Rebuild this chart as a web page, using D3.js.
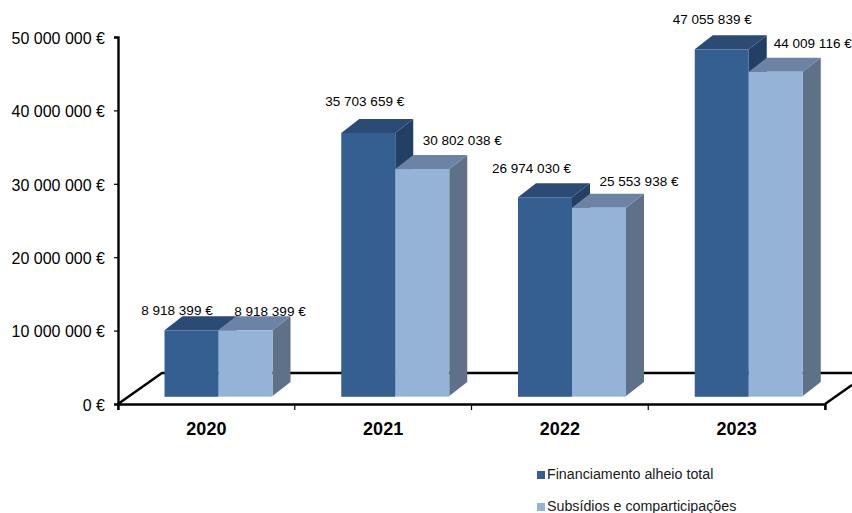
<!DOCTYPE html>
<html><head><meta charset="utf-8">
<script src="https://cdn.jsdelivr.net/npm/d3@7"></script>
<style>html,body{margin:0;padding:0;background:#fff}svg{display:block;font-family:"Liberation Sans",Arial,sans-serif}</style>
</head><body><svg id="c" width="852" height="513"></svg>
<script>
const years = ["2020","2021","2022","2023"];
const seriesNames = ["Financiamento alheio total","Subsídios e comparticipações"];
const financiamento = [8918399,35703659,26974030,47055839];
const subsidios = [8918399,30802038,25553938,44009116];
const yTicks = [0,10000000,20000000,30000000,40000000,50000000];

const palettes = [
  {front:"#365F91",top:"#2B4A74",side:"#233F64",edge:"#5B7FAB"},
  {front:"#95B3D7",top:"#6C83A5",side:"#5F7189",edge:"#B9CDE4"}
];
const labelOffsets = [
  [[-14.5,-15],[-3.5,-27],[-13.5,-24],[-9.5,-25]],
  [[24.5,-14.5],[40,-24],[40,-22],[37,-23.5]]
];
const svg = d3.select("#c");
const y = d3.scaleLinear().domain([0,50000000]).range([404,37]);
const yBar = d3.scaleLinear().domain([0,50000000]).range([396,27.6]);
const x = d3.scaleBand().domain(years).range([118,825]);
const inner = d3.scaleBand().domain([0,1]).range([46.5,154.5]);
const depth = {dx:18,dy:-14}, floor = {dx:44,dy:-31};
const fmt = d3.formatLocale({decimal:",",thousands:" ",grouping:[3],currency:["","€"]}).format(",d");
const L = v => fmt(v)+" €";

// floor
svg.append("path").attr("fill","none").attr("stroke","#000").attr("stroke-width",2.4)
  .attr("d",`M118,${y(0)}L${118+floor.dx},${y(0)+floor.dy}H852`);
svg.append("path").attr("fill","none").attr("stroke","#000").attr("stroke-width",2.4)
  .attr("d",`M825,${y(0)}L852,${y(0)-19}`);

// axes
const ay = svg.append("g").attr("transform","translate(118,0)")
  .call(d3.axisLeft(y).tickValues(yTicks).tickFormat(L).tickSize(4).tickPadding(9));
const ax = svg.append("g").attr("transform",`translate(0,${y(0)})`)
  .call(d3.axisBottom(x).tickSize(6).tickSizeOuter(6).tickPadding(12));
ay.selectAll(".domain").attr("stroke","#000").attr("stroke-width",2.4);
ax.selectAll(".domain").attr("stroke","#000").attr("stroke-width",2.4);
ay.selectAll("line").attr("stroke","#000").attr("stroke-width",1.2);
ay.selectAll("text").attr("font-size",16).attr("dy","0.39em").attr("font-family","Liberation Sans").attr("fill","#000");
ax.selectAll("text").attr("font-size",18).attr("font-weight","bold").attr("font-family","Liberation Sans").attr("fill","#000");
ax.selectAll(".tick line").remove();
[...years.map(d=>x(d)),825].forEach(px=>{
  ax.append("line").attr("x1",px).attr("x2",px).attr("y1",0).attr("y2",6).attr("stroke","#000").attr("stroke-width",1.2);
});

// bars
[financiamento,subsidios].forEach((vals,s)=>{
  const p = palettes[s];
  const g = svg.append("g");
  vals.forEach((v,i)=>{
    const x0 = x(years[i])+inner(s), w = inner.bandwidth();
    const yb = yBar(0), yt = yBar(v);
    const b = g.append("g");
    b.append("path").attr("fill",p.side)
      .attr("d",`M${x0+w},${yt}l${depth.dx},${depth.dy}V${yb+depth.dy}L${x0+w},${yb}Z`);
    b.append("path").attr("fill",p.top)
      .attr("d",`M${x0},${yt}l${depth.dx},${depth.dy}h${w}l${-depth.dx},${-depth.dy}Z`);
    b.append("rect").attr("x",x0).attr("y",yb).attr("width",w).attr("height",1).attr("fill",p.edge);
    b.append("rect").attr("x",x0).attr("y",yt).attr("width",w).attr("height",yb-yt).attr("fill",p.front);
  });
});
// labels
[financiamento,subsidios].forEach((vals,s)=>{
  svg.append("g").selectAll("text").data(vals).join("text")
    .attr("x",(d,i)=>x(years[i])+inner(s)+inner.bandwidth()/2+labelOffsets[s][i][0])
    .attr("y",(d,i)=>yBar(d)+labelOffsets[s][i][1])
    .attr("text-anchor","middle").attr("font-size",13.5).attr("fill","#000").text(L);
});
// legend
const leg = svg.append("g").selectAll("g").data(seriesNames).join("g")
  .attr("transform",(d,i)=>`translate(537,${471+i*32})`);
leg.append("rect").attr("width",8).attr("height",8).attr("fill",(d,i)=>palettes[i].front);
leg.append("text").attr("x",10).attr("y",7.5).attr("font-size",14.25).attr("fill","#1a1a1a").text(d=>d);
</script></body></html>
